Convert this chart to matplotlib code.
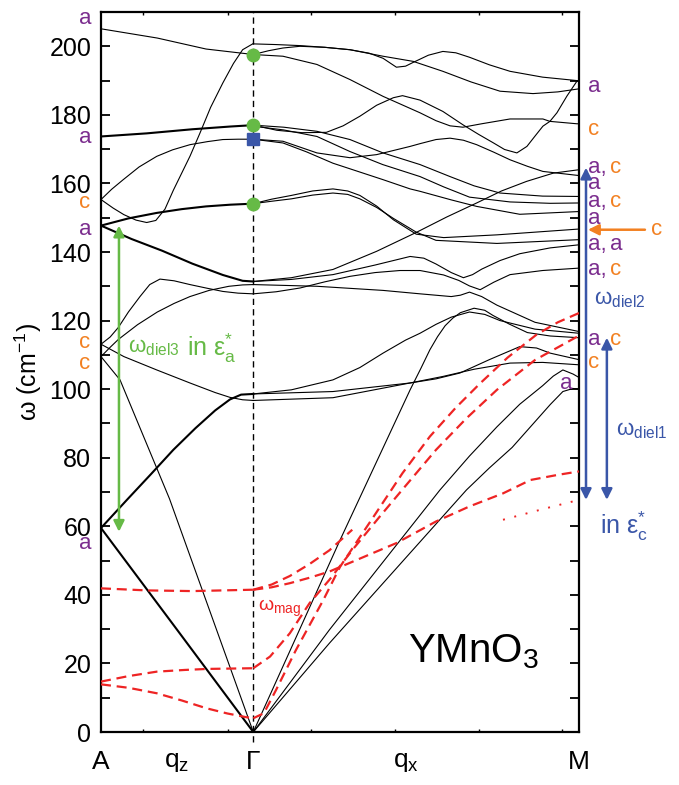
import matplotlib
matplotlib.use("Agg")
import matplotlib.pyplot as plt
from matplotlib.ticker import MultipleLocator

plt.rcParams["font.family"] = ["Liberation Sans", "DejaVu Sans"]
plt.rcParams["mathtext.fontset"] = "custom"
plt.rcParams["mathtext.rm"] = "Liberation Sans"
plt.rcParams["mathtext.it"] = "Liberation Sans:italic"

# path coordinate: A = 0, Gamma = 1, M = 3.139 ; frequencies in cm^-1
Q_A, Q_G, Q_M = 0.0, 1.0, 3.139

# ---- A -> Gamma branches (black) ----
ag_top = ([0, 0.37, 0.69, 1.0], [205.1, 202.4, 199.2, 197.6])
ag_steep = ([0, 0.08, 0.15, 0.23, 0.30, 0.36, 0.42, 0.475, 0.53, 0.585, 0.65, 0.72, 0.80, 0.87, 0.93, 1.0],
            [155.3, 152.8, 150.9, 149.3, 148.6, 149.2, 152.5, 158.0, 163.0, 168.0, 174.7, 182.2, 189.3, 195.0, 199.0, 200.8])
ag_174 = ([0, 0.3, 0.6, 0.85, 1.0], [173.7, 174.6, 175.8, 176.6, 177.0])
ag_155 = ([0, 0.07, 0.146, 0.25, 0.366, 0.47, 0.584, 0.70, 0.80, 0.9, 1.0],
          [155.3, 158.3, 161.1, 164.8, 167.9, 169.8, 171.3, 172.2, 172.8, 172.9, 172.9])
ag_148_up = ([0, 0.18, 0.366, 0.53, 0.69, 0.85, 1.0], [147.7, 149.8, 151.4, 152.5, 153.3, 153.8, 154.1])
ag_148_dn = ([0, 0.2, 0.4, 0.6, 0.8, 0.93, 1.0], [147.7, 143.8, 140.4, 136.6, 133.3, 131.6, 131.4])
ag_hump = ([0, 0.06, 0.114, 0.18, 0.256, 0.32, 0.387, 0.48, 0.584, 0.70, 0.80, 0.9, 1.0],
           [113.1, 115.2, 118.0, 122.5, 127.0, 130.5, 132.1, 131.6, 130.5, 129.4, 128.5, 128.0, 127.8])
ag_grad = ([0, 0.06, 0.114, 0.24, 0.37, 0.48, 0.584, 0.71, 0.84, 0.93, 1.0],
           [109.5, 112.2, 114.5, 118.8, 122.5, 125.0, 127.0, 128.8, 130.0, 130.4, 130.5])
ag_113_dn = ([0, 0.15, 0.366, 0.584, 0.75, 0.847, 0.93, 1.0], [113.1, 109.5, 105.6, 101.8, 99.0, 97.6, 96.9, 96.7])
ag_110_ac = ([0, 0.125, 0.45, 1.0], [109.5, 102.7, 68.0, 0.0])
ag_60_up = ([0, 0.17, 0.33, 0.475, 0.62, 0.75, 0.847, 0.92, 1.0],
            [59.5, 67.7, 75.3, 82.3, 88.6, 93.8, 97.0, 98.4, 98.6])
ag_60_ac = ([0, 0.5, 1.0], [59.5, 29.8, 0.0])

# ---- Gamma -> M branches (black) ----
gm_201 = ([1.0, 1.15, 1.307, 1.47, 1.635, 1.852, 2.05, 2.245, 2.43, 2.62, 2.837, 3.0, 3.125, 3.139],
          [200.7, 200.5, 200.2, 199.7, 199.0, 197.1, 195.6, 192.7, 189.6, 186.9, 186.2, 186.7, 187.5, 187.6])
gm_198a = ([1.0, 1.1, 1.195, 1.307, 1.47, 1.635, 1.76, 1.852, 1.94, 2.0, 2.05, 2.15, 2.245, 2.33, 2.42, 2.55, 2.686, 2.9, 3.125, 3.139],
           [197.6, 198.7, 199.5, 200.0, 199.7, 199.0, 198.0, 196.5, 193.9, 194.2, 195.3, 197.4, 198.5, 198.1, 196.8, 194.6, 192.7, 191.0, 190.0, 190.0])
gm_198b = ([1.0, 1.195, 1.418, 1.635, 1.852, 2.095, 2.2, 2.292, 2.377, 2.5, 2.686, 2.902, 2.948, 3.125, 3.139],
           [197.6, 197.1, 194.7, 190.3, 185.4, 180.6, 178.3, 176.8, 176.4, 177.4, 178.8, 178.8, 178.1, 177.4, 177.4])
gm_177a = ([1.0, 1.155, 1.32, 1.48, 1.59, 1.70, 1.81, 1.92, 1.98, 2.095, 2.245, 2.377, 2.48, 2.574, 2.65,
            2.731, 2.797, 2.85, 2.902, 2.948, 2.994, 3.06, 3.125, 3.139],
           [177.0, 175.5, 174.8, 174.9, 176.8, 179.6, 182.8, 185.0, 185.6, 184.3, 181.0, 177.1, 174.3, 171.9, 169.9,
            168.9, 170.8, 173.8, 176.7, 178.1, 180.6, 185.5, 189.8, 190.0])
gm_177b = ([1.0, 1.2, 1.418, 1.635, 1.852, 2.095, 2.292, 2.45, 2.62, 2.90, 3.139],
           [177.0, 176.4, 175.2, 172.8, 168.9, 165.5, 162.0, 159.3, 157.2, 156.3, 156.2])
gm_177c = ([1.0, 1.2, 1.418, 1.635, 1.85, 2.095, 2.25, 2.42, 2.686, 2.95, 3.139],
           [176.7, 175.6, 173.7, 169.3, 165.5, 162.0, 159.0, 156.0, 154.6, 154.2, 154.3])
gm_173a = ([1.0, 1.195, 1.418, 1.635, 1.81, 2.03, 2.095, 2.2, 2.292, 2.38, 2.467, 2.58, 2.686, 2.80, 2.902, 3.139],
           [172.9, 172.3, 168.9, 167.5, 168.4, 170.8, 171.6, 172.8, 173.2, 172.6, 171.3, 169.1, 166.9, 165.0, 163.5, 162.3])
gm_173b = ([1.0, 1.195, 1.35, 1.523, 1.852, 2.03, 2.095, 2.3, 2.467, 2.75, 3.139],
           [172.9, 171.8, 169.2, 165.9, 161.1, 158.4, 157.7, 155.2, 153.3, 151.0, 151.8])
gm_154a = ([1.0, 1.12, 1.25, 1.39, 1.523, 1.62, 1.70, 1.81, 1.92, 2.07, 2.25, 2.6, 3.139],
           [154.1, 155.4, 156.5, 157.8, 158.4, 157.8, 156.5, 153.4, 149.4, 145.2, 144.2, 145.0, 146.7])
gm_154b = ([1.0, 1.12, 1.25, 1.39, 1.523, 1.62, 1.70, 1.81, 1.92, 2.07, 2.2, 2.6, 3.139],
           [154.1, 154.8, 155.5, 156.6, 157.2, 156.8, 155.5, 153.0, 149.8, 145.8, 143.4, 142.5, 143.6])
gm_131a = ([1.0, 1.25, 1.523, 1.81, 2.07, 2.27, 2.467, 2.63, 2.795, 2.97, 3.139],
           [131.4, 132.5, 134.9, 140.2, 145.7, 150.2, 154.3, 157.8, 160.6, 163.0, 164.0])
gm_131b = ([1.0, 1.25, 1.523, 1.8, 2.03, 2.12, 2.2, 2.3, 2.38, 2.44, 2.50, 2.62, 2.75, 2.95, 3.139],
           [131.4, 132.0, 133.4, 136.2, 138.7, 138.2, 136.5, 134.0, 132.5, 133.4, 135.0, 137.5, 139.5, 141.2, 142.1])
gm_128 = ([1.0, 1.15, 1.307, 1.47, 1.635, 1.8, 1.963, 2.095, 2.25, 2.35, 2.42, 2.49, 2.58, 2.686, 2.9, 3.139],
          [127.8, 128.4, 129.5, 131.3, 132.9, 134.0, 134.6, 134.6, 133.3, 131.7, 130.1, 129.0, 131.2, 133.4, 134.6, 135.3])
gm_130 = ([1.0, 1.418, 1.852, 2.095, 2.3, 2.36, 2.42, 2.5, 2.6, 2.85, 3.139],
          [130.5, 130.0, 128.8, 127.8, 127.0, 127.4, 128.3, 127.0, 124.5, 119.5, 116.8])
gm_99a = ([1.0, 1.25, 1.523, 1.7, 1.852, 2.0, 2.095, 2.2, 2.30, 2.42, 2.52, 2.62, 2.85, 3.139],
          [98.6, 99.8, 102.7, 106.3, 110.5, 114.3, 116.3, 118.9, 121.0, 122.5, 121.8, 120.0, 117.5, 116.3])
gm_99b = ([1.0, 1.523, 2.03, 2.245, 2.45, 2.686, 2.90, 3.139],
          [98.6, 99.3, 101.8, 103.7, 105.8, 107.6, 107.8, 107.1])
gm_97 = ([1.0, 1.523, 2.03, 2.2, 2.357, 2.55, 2.75, 2.86, 2.95, 3.139],
         [96.7, 97.5, 101.8, 103.0, 104.7, 108.6, 112.4, 112.0, 110.5, 108.6])
gm_ac1 = ([1.0, 1.57, 2.03, 2.10, 2.16, 2.21, 2.26, 2.31, 2.36, 2.45, 2.52, 2.574, 2.68, 2.80, 2.95, 3.139],
          [0.0, 56.0, 99.8, 106.0, 111.5, 115.3, 118.5, 120.7, 122.3, 123.6, 123.0, 121.5, 119.0, 116.5, 115.5, 115.0])
gm_ac2 = ([1.0, 1.50, 2.226, 2.42, 2.60, 2.75, 2.90, 2.97, 3.033, 3.1, 3.139],
          [0.0, 29.8, 70.6, 80.5, 89.0, 95.6, 101.0, 103.8, 105.6, 104.4, 103.4])
gm_ac3 = ([1.0, 1.50, 2.40, 2.55, 2.70, 2.83, 2.95, 3.033, 3.1, 3.139],
          [0.0, 25.9, 70.6, 77.0, 83.0, 89.5, 95.5, 99.3, 100.2, 100.0])

# ---- magnon branches (red dashed) ----
mag_ag_42 = ([0, 0.3, 0.6, 1.0], [41.9, 41.3, 41.1, 41.5])
mag_ag_15 = ([0, 0.18, 0.366, 0.55, 0.7, 1.0], [14.7, 16.3, 17.6, 18.1, 18.4, 18.6])
mag_ag_14 = ([0, 0.18, 0.366, 0.53, 0.694, 0.83, 0.956, 1.0], [13.9, 12.9, 11.3, 9.2, 6.9, 5.4, 4.3, 4.0])
mag_gm_a = ([1.0, 1.12, 1.24, 1.37, 1.50, 1.68, 1.94, 2.20, 2.42, 2.64, 2.82, 3.0, 3.139],
            [41.5, 42.2, 43.4, 45.0, 46.8, 50.2, 55.1, 61.4, 65.8, 69.6, 73.5, 75.0, 76.0])
mag_gm_b = ([1.0, 1.12, 1.24, 1.37, 1.50, 1.65], [41.5, 43.0, 45.5, 49.0, 53.0, 59.0])
mag_gm_c = ([1.0, 1.11, 1.24, 1.37, 1.50, 1.66, 1.83, 2.0, 2.20, 2.40, 2.60, 2.85, 3.139],
            [18.6, 22.0, 28.8, 37.6, 44.4, 53.6, 62.8, 71.8, 82.3, 91.5, 99.8, 108.5, 115.6])
mag_gm_d = ([1.0, 1.07, 1.15, 1.28, 1.46, 1.57, 1.79, 1.98, 2.16, 2.33, 2.49, 2.67, 2.86, 3.0, 3.139],
            [4.0, 5.5, 12.3, 23.9, 38.5, 48.2, 62.8, 75.5, 86.2, 94.6, 101.7, 109.2, 115.9, 119.5, 122.2])
mag_dotted = ([2.64, 2.90, 3.139], [61.9, 65.0, 67.7])

# ---- Gamma point modes ----
gamma_green = [197.6, 177.0, 154.1]
gamma_blue = [172.9]

# ---- mode symmetry labels ----
a_label_w = [208.0, 173.5, 154.5, 146.5, 113.7, 107.4, 55.0]
a_label_txt = ["a", "a", "c", "a", "c", "c", "a"]
m_label_w = [188.2, 175.7, 164.6, 159.9, 154.7, 149.7, 142.1, 134.8, 114.4, 107.7]
m_label_1 = ["a", "c", "a,", "a", "a,", "a", "a,", "a,", "a", "c"]
m_label_2 = ["", "", "c", "", "c", "", "a", "c", "c", ""]

x_tick_q = [0.276, 0.834, 1.379, 1.930, 2.482, 3.027]
path_names = ["A", "q$_{\\mathrm{z}}$", "Γ", "q$_{\\mathrm{x}}$", "M"]
path_q = [Q_A, 0.5, Q_G, 2.0, Q_M]

thin = [ag_top, ag_steep, ag_155, ag_hump, ag_grad, ag_113_dn, ag_110_ac,
        gm_201, gm_198a, gm_198b, gm_177a, gm_177b, gm_177c, gm_173a, gm_173b,
        gm_154a, gm_154b, gm_131a, gm_131b, gm_128, gm_130, gm_99a, gm_99b, gm_97,
        gm_ac1, gm_ac2, gm_ac3]
thick = [ag_174, ag_148_up, ag_148_dn, ag_60_up, ag_60_ac]
magnons = [mag_ag_42, mag_ag_15, mag_ag_14, mag_gm_a, mag_gm_b, mag_gm_c, mag_gm_d]

PURPLE = "#7b2d8e"
ORANGE = "#f28021"
GREEN = "#66ba46"
BLUE = "#3a56a8"
RED = "#ee2424"
COL = {"a": PURPLE, "c": ORANGE}

fig = plt.figure(figsize=(6.79, 7.85), dpi=100)
ax = fig.add_axes([101 / 679, 1 - 732 / 785, 478 / 679, 720 / 785])

for q, w in thin:
    ax.plot(q, w, color="black", lw=0.8, zorder=3)
for q, w in thick:
    ax.plot(q, w, color="black", lw=1.5, zorder=3)
for q, w in magnons:
    ax.plot(q, w, color=RED, lw=1.6, dashes=(4.5, 2.6), zorder=4)
ax.plot(*mag_dotted, color=RED, lw=1.4, dashes=(1, 5), zorder=4)

# Gamma reference line
ax.plot([Q_G, Q_G], [-3, 210], color="black", lw=1.0, dashes=(4.5, 3), clip_on=False, zorder=2)
ax.plot([Q_G] * len(gamma_green), gamma_green, "o", color=GREEN, ms=9, zorder=5)
ax.plot([Q_G] * len(gamma_blue), gamma_blue, "s", color=BLUE, ms=8, zorder=5)

ax.set_xlim(Q_A, Q_M)
ax.set_ylim(0, 210)
ax.yaxis.set_major_locator(MultipleLocator(20))
ax.yaxis.set_minor_locator(MultipleLocator(10))
ax.set_xticks(x_tick_q)
ax.set_xticklabels([])
ax.tick_params(axis="y", which="both", direction="in", left=True, right=True,
               length=6.5, width=1.3, labelsize=18, pad=7)
ax.tick_params(axis="x", which="both", direction="in", top=True, bottom=True,
               length=2.5, width=1.0)
for s in ax.spines.values():
    s.set_linewidth(1.6)
ax.set_ylabel("ω (cm$^{-1}$)", fontsize=18, labelpad=4)

for q, name in zip(path_q, path_names):
    ax.annotate(name, xy=(q, 0), xycoords=("data", "axes fraction"), xytext=(0, -13),
                textcoords="offset points", ha="center", va="top", fontsize=19)

# symmetry labels at A
for w, t in zip(a_label_w, a_label_txt):
    ax.text(-0.105, w, t, color=COL[t], fontsize=16, ha="center", va="center", clip_on=False)

# symmetry labels at M
for w, t1, t2 in zip(m_label_w, m_label_1, m_label_2):
    ax.text(3.198, w, t1, color=COL[t1[0]], fontsize=16, ha="left", va="center", clip_on=False)
    if t2:
        ax.text(3.343, w, t2, color=COL[t2], fontsize=16, ha="left", va="center", clip_on=False)
ax.text(3.053, 101.6, "a", color=PURPLE, fontsize=16, ha="center", va="center")

# dielectric / magnon annotations
arrow_kw = dict(mutation_scale=16, lw=1.8, shrinkA=0, shrinkB=0)
ax.annotate("", xy=(0.118, 58.4), xytext=(0.118, 147.7), annotation_clip=False,
            arrowprops=dict(arrowstyle="<|-|>", color=GREEN, **arrow_kw))
ax.annotate("", xy=(3.185, 67.7), xytext=(3.185, 164.6), annotation_clip=False,
            arrowprops=dict(arrowstyle="<|-|>", color=BLUE, **arrow_kw))
ax.annotate("", xy=(3.322, 67.7), xytext=(3.322, 115.0), annotation_clip=False,
            arrowprops=dict(arrowstyle="<|-|>", color=BLUE, **arrow_kw))
ax.annotate("", xy=(3.198, 146.5), xytext=(3.572, 146.5), annotation_clip=False,
            arrowprops=dict(arrowstyle="-|>", color=ORANGE, **arrow_kw))
ax.text(3.65, 146.5, "c", color=ORANGE, fontsize=16, ha="center", va="center", clip_on=False)

ax.text(0.177, 112, "ω$_{\\mathrm{diel3}}$", color=GREEN, fontsize=16, ha="left", va="center")
ax.text(0.565, 112, "in ε$_{\\mathrm{a}}^{*}$", color=GREEN, fontsize=18, ha="left", va="center")
ax.text(3.237, 126, "ω$_{\\mathrm{diel2}}$", color=BLUE, fontsize=16, ha="left",
        va="center", clip_on=False)
ax.text(3.381, 88, "ω$_{\\mathrm{diel1}}$", color=BLUE, fontsize=16, ha="left",
        va="center", clip_on=False)
ax.text(3.276, 60, "in ε$_{\\mathrm{c}}^{*}$", color=BLUE, fontsize=18, ha="left",
        va="center", clip_on=False)
ax.text(1.03, 36, "ω$_{\\mathrm{mag}}$", color=RED, fontsize=14, ha="left", va="center")
ax.text(2.016, 20.4, "YMnO$_3$", fontsize=29, ha="left", va="baseline")

fig.savefig("out.png", dpi=100)
